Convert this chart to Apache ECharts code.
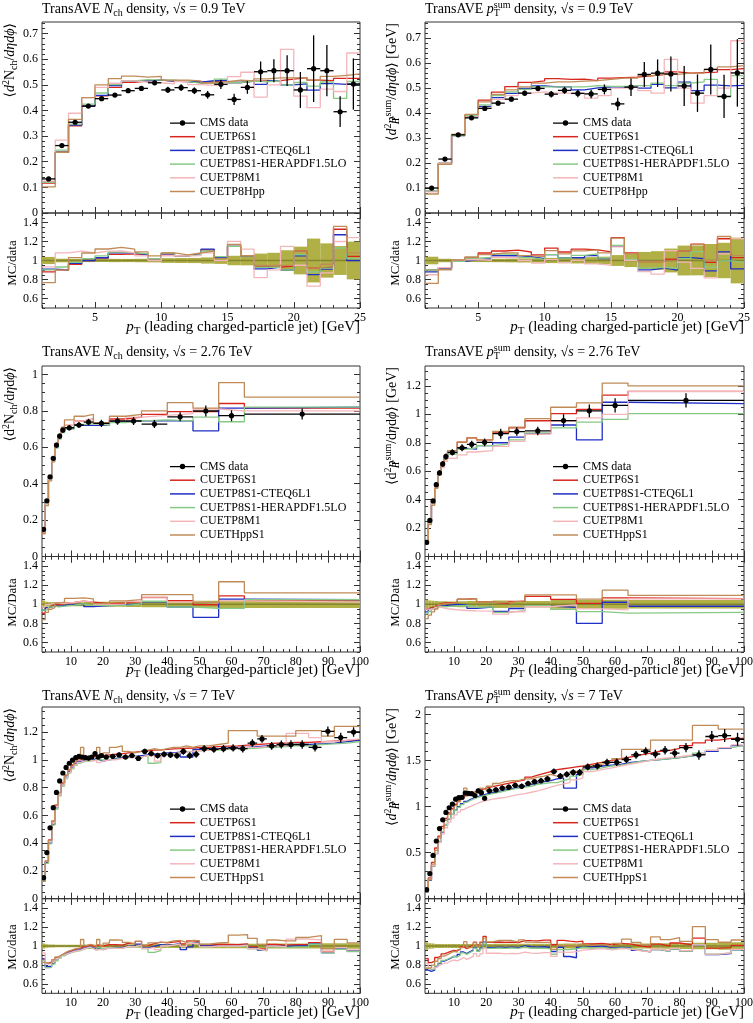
<!DOCTYPE html>
<html><head><meta charset="utf-8"><title>TransAVE densities</title>
<script src="https://cdn.jsdelivr.net/npm/echarts@6.0.0/dist/echarts.min.js"></script>
<style>html,body{margin:0;padding:0;background:#fff;}#chart{width:753px;height:1023px;}</style>
</head><body><div id="chart"></div>
<script>
// ================= DATA =================
const NAMES_A = ['CUETP6S1','CUETP8S1-CTEQ6L1','CUETP8S1-HERAPDF1.5LO','CUETP8M1','CUETP8Hpp'];
const NAMES_B = ['CUETP6S1','CUETP8S1-CTEQ6L1','CUETP8S1-HERAPDF1.5LO','CUETP8M1','CUETHppS1'];

// ---- sqrt(s) = 0.9 TeV ----
const edges09 = [1,2,3,4,5,6,7,8,9,10,11,12,13,14,15,16,17,18,19,20,21,22,23,24,25];
const nch09_data = [0.133,0.263,0.354,0.417,0.446,0.460,0.477,0.486,0.508,0.480,0.489,0.477,0.461,0.502,0.443,0.490,0.551,0.555,0.555,0.480,0.563,0.555,0.395,0.503];
const nch09_err  = [0.005,0.005,0.006,0.007,0.007,0.008,0.008,0.009,0.010,0.012,0.013,0.013,0.015,0.018,0.022,0.025,0.040,0.045,0.060,0.070,0.130,0.100,0.060,0.100];
const nch09_P6S1 = [0.117,0.237,0.340,0.417,0.457,0.490,0.510,0.515,0.518,0.514,0.513,0.510,0.512,0.517,0.509,0.514,0.515,0.516,0.522,0.528,0.518,0.516,0.525,0.525];
const nch09_CTEQ = [0.121,0.237,0.343,0.417,0.459,0.497,0.515,0.515,0.518,0.514,0.513,0.510,0.516,0.517,0.509,0.514,0.502,0.516,0.500,0.504,0.479,0.505,0.502,0.503];
const nch09_HERA = [0.120,0.245,0.347,0.425,0.468,0.501,0.515,0.520,0.518,0.518,0.513,0.506,0.507,0.522,0.509,0.514,0.512,0.516,0.500,0.509,0.495,0.511,0.447,0.513];
const nch09_M1   = [0.124,0.284,0.389,0.450,0.490,0.506,0.515,0.510,0.508,0.504,0.513,0.501,0.498,0.502,0.532,0.549,0.452,0.500,0.638,0.456,0.411,0.483,0.474,0.624];
const nch09_Hpp  = [0.102,0.237,0.365,0.450,0.500,0.524,0.534,0.530,0.533,0.518,0.518,0.515,0.507,0.512,0.518,0.515,0.523,0.527,0.527,0.528,0.518,0.533,0.537,0.543];

const pt09_data = [0.100,0.216,0.313,0.381,0.419,0.440,0.456,0.480,0.499,0.476,0.491,0.479,0.477,0.495,0.437,0.504,0.555,0.560,0.557,0.509,0.480,0.575,0.467,0.561];
const pt09_err  = [0.004,0.004,0.005,0.006,0.007,0.008,0.009,0.010,0.011,0.013,0.014,0.015,0.017,0.020,0.025,0.035,0.050,0.055,0.070,0.080,0.075,0.100,0.087,0.135];
const pt09_P6S1 = [0.090,0.199,0.313,0.392,0.452,0.484,0.506,0.523,0.529,0.538,0.535,0.536,0.530,0.540,0.542,0.544,0.549,0.554,0.565,0.560,0.562,0.564,0.574,0.578];
const pt09_CTEQ = [0.088,0.199,0.310,0.385,0.427,0.462,0.479,0.499,0.509,0.505,0.506,0.493,0.501,0.505,0.503,0.509,0.500,0.515,0.501,0.524,0.490,0.512,0.509,0.511];
const pt09_HERA = [0.090,0.200,0.310,0.390,0.433,0.470,0.485,0.495,0.505,0.505,0.505,0.505,0.510,0.507,0.507,0.510,0.510,0.520,0.510,0.520,0.525,0.535,0.465,0.550];
const pt09_M1   = [0.085,0.200,0.315,0.385,0.420,0.455,0.470,0.480,0.485,0.480,0.480,0.480,0.460,0.470,0.500,0.505,0.490,0.480,0.615,0.500,0.440,0.470,0.500,0.690];
const pt09_Hpp  = [0.076,0.195,0.315,0.395,0.445,0.475,0.493,0.505,0.520,0.525,0.525,0.528,0.530,0.535,0.540,0.540,0.550,0.555,0.555,0.560,0.560,0.575,0.585,0.590];

// ---- sqrt(s) = 2.76 TeV ----
const edges276 = [1,2,3,4,5,6,7,8,11,14,17,22,27,32,40,48,56,64,100];
const nch276_data = [0.149,0.306,0.438,0.539,0.612,0.661,0.694,0.707,0.722,0.738,0.731,0.744,0.744,0.727,0.767,0.799,0.773,0.782];
const nch276_err  = [0.006,0.008,0.010,0.012,0.013,0.014,0.015,0.015,0.016,0.018,0.020,0.020,0.022,0.022,0.025,0.030,0.030,0.030];
const nch276_P6S1 = [0.135,0.295,0.430,0.535,0.610,0.660,0.700,0.720,0.745,0.755,0.735,0.755,0.765,0.780,0.795,0.795,0.840,0.815];
const nch276_CTEQ = [0.140,0.295,0.425,0.530,0.600,0.650,0.685,0.705,0.720,0.720,0.720,0.740,0.745,0.745,0.745,0.690,0.815,0.820];
const nch276_HERA = [0.140,0.290,0.425,0.530,0.595,0.645,0.680,0.700,0.725,0.730,0.720,0.735,0.745,0.750,0.745,0.765,0.740,0.820];
const nch276_M1   = [0.145,0.305,0.440,0.545,0.620,0.665,0.700,0.720,0.745,0.755,0.730,0.745,0.765,0.775,0.785,0.810,0.800,0.800];
const nch276_HppS1= [0.125,0.280,0.415,0.520,0.620,0.670,0.710,0.750,0.770,0.780,0.735,0.770,0.780,0.800,0.845,0.815,0.955,0.875];

const pt276_data = [0.100,0.254,0.391,0.505,0.588,0.651,0.703,0.732,0.765,0.789,0.803,0.864,0.879,0.883,0.956,1.025,1.063,1.098];
const pt276_err  = [0.005,0.010,0.014,0.017,0.019,0.020,0.022,0.022,0.024,0.026,0.027,0.035,0.030,0.030,0.045,0.045,0.050,0.050];
const pt276_P6S1 = [0.095,0.245,0.380,0.500,0.590,0.660,0.715,0.745,0.805,0.835,0.820,0.870,0.905,0.955,1.005,1.035,1.135,1.162];
const pt276_CTEQ = [0.092,0.240,0.375,0.490,0.580,0.640,0.695,0.730,0.760,0.755,0.780,0.800,0.840,0.865,0.925,0.820,1.085,1.075];
const pt276_HERA = [0.090,0.235,0.370,0.490,0.575,0.635,0.685,0.720,0.755,0.765,0.780,0.790,0.820,0.870,0.905,0.945,0.965,1.005];
const pt276_M1   = [0.095,0.240,0.375,0.490,0.570,0.625,0.670,0.690,0.715,0.735,0.745,0.775,0.810,0.860,0.950,0.975,1.000,1.160];
const pt276_HppS1= [0.085,0.225,0.360,0.480,0.585,0.655,0.710,0.745,0.805,0.835,0.820,0.880,0.910,0.970,1.050,1.080,1.220,1.200];

// ---- sqrt(s) = 7 TeV ----
const edges7 = [1,2,3,4,5,6,7,8,9,10,11,12,13,14,15,16,17,18,19,20,
  22,24,26,28,30,32,34,36,38,40,42,44,46,48,50,
  53,56,59,62,65,68,71,74,77,80,
  84,88,92,96,100];
const nch7_data = [0.151,0.332,0.510,0.655,0.765,0.848,0.905,0.945,0.975,0.998,1.015,1.025,1.020,1.015,1.012,1.020,1.045,1.020,1.030,
  1.020,1.025,1.035,1.020,1.030,1.010,1.060,1.045,1.030,1.040,1.035,1.030,1.060,1.030,1.040,
  1.080,1.075,1.080,1.085,1.080,1.120,1.150,1.100,1.110,1.110,
  1.110,1.090,1.205,1.160,1.200];
const nch7_err = [0.004,0.006,0.008,0.010,0.011,0.012,0.012,0.013,0.013,0.013,0.014,0.014,0.014,0.015,0.015,0.015,0.015,0.016,0.016,
  0.016,0.017,0.017,0.018,0.018,0.019,0.020,0.020,0.021,0.022,0.022,0.023,0.024,0.024,0.025,
  0.025,0.025,0.026,0.026,0.027,0.027,0.028,0.028,0.029,0.030,
  0.030,0.030,0.035,0.035,0.035];
const nch7_P6S1 = [0.131,0.272,0.423,0.557,0.673,0.763,0.833,0.888,0.926,0.958,0.985,1.000,1.010,1.015,1.020,1.022,1.025,1.028,1.030,
  1.035,1.040,1.045,1.050,1.055,1.060,1.065,1.070,1.072,1.075,1.078,1.080,1.083,1.085,1.088,
  1.090,1.095,1.098,1.100,1.105,1.110,1.115,1.120,1.120,1.125,
  1.125,1.130,1.135,1.140,1.140];
const nch7_CTEQ = [0.130,0.260,0.400,0.535,0.655,0.750,0.820,0.875,0.915,0.945,0.970,0.985,0.995,1.000,1.000,1.000,1.010,1.000,0.990,
  1.000,1.010,1.015,1.020,1.025,1.030,1.035,1.040,1.045,1.050,1.050,1.055,1.020,1.020,1.075,
  1.080,1.080,1.085,1.090,1.090,1.095,1.100,1.100,1.105,1.110,
  1.110,1.115,1.120,1.130,1.140];
const nch7_HERA = [0.128,0.255,0.395,0.530,0.645,0.740,0.810,0.865,0.905,0.935,0.960,0.975,0.985,0.990,0.990,0.995,1.000,1.000,1.000,
  1.000,1.005,1.010,1.015,1.020,1.020,1.030,0.975,0.980,1.040,1.045,1.050,1.055,1.060,1.065,
  1.070,1.070,1.075,1.080,1.080,1.085,1.090,1.090,1.095,1.100,
  1.100,1.110,1.115,1.120,1.130];
const nch7_M1 = [0.140,0.270,0.415,0.550,0.660,0.750,0.820,0.870,0.910,0.940,0.965,0.980,0.990,0.995,1.000,0.990,1.000,0.980,0.990,
  1.000,1.000,1.010,1.015,1.020,1.020,1.030,1.030,0.990,1.040,1.045,1.050,1.055,1.060,1.065,
  1.070,1.075,1.080,1.085,1.090,1.090,1.095,1.100,1.100,1.190,
  1.190,1.160,1.130,1.140,1.150];
const nch7_HppS1 = [0.125,0.270,0.420,0.560,0.675,0.765,0.835,0.890,0.930,0.965,0.990,1.005,1.090,1.020,1.030,1.030,1.040,1.090,1.030,
  1.050,1.090,1.100,1.060,1.050,1.060,1.070,1.080,1.070,1.080,1.090,1.090,1.100,1.090,1.100,
  1.100,1.110,1.120,1.210,1.210,1.210,1.170,1.170,1.170,1.170,
  1.210,1.210,1.170,1.240,1.240];

const pt7_data = [0.098,0.273,0.470,0.626,0.761,0.856,0.936,0.987,1.027,1.080,1.096,1.100,1.147,1.143,1.140,1.120,1.170,1.150,1.090,
  1.170,1.180,1.200,1.210,1.230,1.220,1.250,1.270,1.280,1.300,1.380,1.330,1.350,1.370,1.370,
  1.430,1.440,1.480,1.480,1.510,1.560,1.600,1.570,1.610,1.580,
  1.640,1.560,1.760,1.770,1.730];
const pt7_err = [0.004,0.008,0.012,0.014,0.016,0.018,0.019,0.020,0.021,0.022,0.022,0.023,0.024,0.024,0.024,0.025,0.025,0.025,0.025,
  0.026,0.027,0.027,0.028,0.028,0.029,0.030,0.030,0.031,0.032,0.033,0.033,0.034,0.035,0.036,
  0.037,0.038,0.039,0.040,0.041,0.042,0.044,0.045,0.046,0.047,
  0.050,0.052,0.060,0.070,0.070];
const pt7_P6S1 = [0.085,0.225,0.395,0.550,0.680,0.785,0.870,0.930,0.980,1.025,1.060,1.090,1.115,1.135,1.150,1.165,1.180,1.190,1.200,
  1.215,1.230,1.245,1.260,1.275,1.290,1.320,1.340,1.360,1.380,1.400,1.410,1.420,1.430,1.440,
  1.460,1.480,1.500,1.520,1.540,1.560,1.580,1.600,1.610,1.630,
  1.660,1.690,1.720,1.740,1.740];
const pt7_CTEQ = [0.073,0.200,0.350,0.490,0.620,0.720,0.800,0.860,0.915,0.960,1.000,1.030,1.055,1.075,1.090,1.100,1.115,1.125,1.135,
  1.150,1.165,1.180,1.195,1.210,1.220,1.240,1.255,1.270,1.280,1.300,1.310,1.200,1.200,1.350,
  1.420,1.440,1.450,1.460,1.480,1.490,1.500,1.510,1.520,1.530,
  1.550,1.570,1.600,1.630,1.660];
const pt7_HERA = [0.075,0.205,0.355,0.495,0.625,0.725,0.805,0.865,0.915,0.955,0.990,1.020,1.045,1.065,1.080,1.095,1.105,1.115,1.125,
  1.140,1.155,1.170,1.185,1.200,1.210,1.220,1.240,1.250,1.260,1.260,1.280,1.300,1.330,1.350,
  1.400,1.420,1.440,1.450,1.470,1.490,1.500,1.510,1.520,1.530,
  1.550,1.580,1.610,1.640,1.660];
const pt7_M1 = [0.080,0.210,0.360,0.490,0.610,0.700,0.770,0.830,0.875,0.910,0.940,0.965,0.985,1.000,1.015,1.030,1.045,1.055,1.065,
  1.080,1.090,1.100,1.115,1.130,1.140,1.155,1.170,1.190,1.210,1.230,1.245,1.260,1.290,1.310,
  1.380,1.400,1.420,1.440,1.460,1.480,1.500,1.520,1.530,1.540,
  1.560,1.580,1.610,1.640,1.670];
const pt7_HppS1 = [0.075,0.210,0.375,0.525,0.660,0.765,0.850,0.915,0.970,1.010,1.050,1.080,1.200,1.120,1.140,1.160,1.170,1.200,1.180,
  1.220,1.250,1.270,1.280,1.280,1.300,1.300,1.320,1.330,1.350,1.330,1.340,1.350,1.380,1.400,
  1.440,1.460,1.480,1.520,1.620,1.620,1.620,1.720,1.720,1.720,
  1.720,1.880,1.880,1.840,1.840];

// tick label values
const xTicks09 = [5,10,15,20,25];
const xTicksHi = [10,20,30,40,50,60,70,80,90,100];
const ratioTicks = [0.6,0.8,1,1.2,1.4];

// ================= STYLE / LAYOUT =================
const FONT = "'Liberation Serif','DejaVu Serif',serif";
const MC_COLORS = ['#d9261c','#1f2fc4','#86c986','#f4b6bb','#c08b57'];
const BAND_COLOR = '#b1b046';
const BAND_LINE = '#85852f';
const FRAME = '#333';

function ticks(a, b, s) { const o = []; for (let k = 0; ; k++) { const v = +(a + k * s).toFixed(6); if (v > b + 1e-9) break; o.push(v); } return o; }

const ROWS = [
  {T: 22, M: 213, B: 308, titleY: 9.5, xtY: 327, rtY: 263, legT: 117},
  {T: 366, M: 556.5, B: 652, titleY: 352, xtY: 670, rtY: 602.5, legT: 460.5},
  {T: 707, M: 898.7, B: 993.3, titleY: 696, xtY: 1012, rtY: 947, legT: 803}
];
const COLS = [
  {L: 42, W: 318, ytX: 10, rtX: 12.5, legL: 170},
  {L: 425, W: 319, ytX: 392, rtX: 396, legL: 553}
];

const T_NCH = (e) => 'TransAVE {i|N}{sub|ch} density, √{i|s} = ' + e + ' TeV';
const T_PT  = (e) => 'TransAVE {i|p}{subz|T}{sup|sum} density, √{i|s} = ' + e + ' TeV';

const panels = [
  {row: 0, col: 0, edges: edges09, data: nch09_data, err: nch09_err, mc: [nch09_P6S1, nch09_CTEQ, nch09_HERA, nch09_M1, nch09_Hpp], names: NAMES_A,
   xmin: 1, xmax: 25, xMaj: xTicks09, xMin: ticks(1, 25, 1), ymax: 0.745, yMaj: ticks(0, 0.7, 0.1), yMin: ticks(0, 0.74, 0.02),
   title: T_NCH('0.9'), ytitle: '⟨{i|d}{sup|2}N{sub|ch}/{i|dηdϕ}⟩', rtitle: 'MC/data'},
  {row: 0, col: 1, edges: edges09, data: pt09_data, err: pt09_err, mc: [pt09_P6S1, pt09_CTEQ, pt09_HERA, pt09_M1, pt09_Hpp], names: NAMES_A,
   xmin: 1, xmax: 25, xMaj: xTicks09, xMin: ticks(1, 25, 1), ymax: 0.765, yMaj: ticks(0, 0.7, 0.1), yMin: ticks(0, 0.76, 0.02),
   title: T_PT('0.9'), ytitle: '⟨{i|d}{sup|2}{i|p}{subz|T}{sup|sum}/{i|dηdϕ}⟩ [GeV]', rtitle: 'MC/data'},
  {row: 1, col: 0, edges: edges276, data: nch276_data, err: nch276_err, mc: [nch276_P6S1, nch276_CTEQ, nch276_HERA, nch276_M1, nch276_HppS1], names: NAMES_B,
   xmin: 1, xmax: 100, xMaj: xTicksHi, xMin: ticks(2, 100, 2), ymax: 1.046, yMaj: ticks(0, 1, 0.2), yMin: ticks(0, 1.04, 0.05),
   title: T_NCH('2.76'), ytitle: '⟨d{sup|2}N{sub|ch}/d{i|η}d{i|ϕ}⟩', rtitle: 'MC/Data'},
  {row: 1, col: 1, edges: edges276, data: pt276_data, err: pt276_err, mc: [pt276_P6S1, pt276_CTEQ, pt276_HERA, pt276_M1, pt276_HppS1], names: NAMES_B,
   xmin: 1, xmax: 100, xMaj: xTicksHi, xMin: ticks(2, 100, 2), ymax: 1.34, yMaj: ticks(0, 1.2, 0.2), yMin: ticks(0, 1.3, 0.05),
   title: T_PT('2.76'), ytitle: '⟨d{sup|2}{i|p}{subz|T}{sup|sum}/d{i|η}d{i|ϕ}⟩ [GeV]', rtitle: 'MC/Data'},
  {row: 2, col: 0, edges: edges7, data: nch7_data, err: nch7_err, mc: [nch7_P6S1, nch7_CTEQ, nch7_HERA, nch7_M1, nch7_HppS1], names: NAMES_B,
   xmin: 1, xmax: 100, xMaj: xTicksHi, xMin: ticks(2, 100, 2), ymax: 1.38, yMaj: ticks(0, 1.2, 0.2), yMin: ticks(0, 1.35, 0.05),
   title: T_NCH('7'), ytitle: '⟨{i|d}{sup|2}N{sub|ch}/{i|dηdϕ}⟩', rtitle: 'MC/data'},
  {row: 2, col: 1, edges: edges7, data: pt7_data, err: pt7_err, mc: [pt7_P6S1, pt7_CTEQ, pt7_HERA, pt7_M1, pt7_HppS1], names: NAMES_B,
   xmin: 1, xmax: 100, xMaj: xTicksHi, xMin: ticks(2, 100, 2), ymax: 2.08, yMaj: ticks(0, 2, 0.5), yMin: ticks(0, 2.05, 0.1),
   title: T_PT('7'), ytitle: '⟨{i|d}{sup|2}{i|p}{subz|T}{sup|sum}/{i|dηdϕ}⟩ [GeV]', rtitle: 'MC/data'}
];

// ================= BUILD =================
const grids = [], xAxes = [], yAxes = [], series = [], legends = [], elements = [];

function addAxisGroup(arr, gi, sides, min, max, major, minor, labels) {
  const idx = arr.length;
  sides.forEach((side, s) => {
    [[major, 6], [minor, 3]].forEach(([vals, len], m) => {
      const showLab = s === 0 && m === 0 && labels != null;
      arr.push({
        type: 'value', gridIndex: gi, position: side, min: min, max: max,
        axisLine: {show: false}, splitLine: {show: false}, minorTick: {show: false},
        axisTick: {show: true, inside: true, length: len, customValues: vals, lineStyle: {color: FRAME, width: 1}},
        axisLabel: showLab ? {show: true, customValues: labels, margin: 4, fontFamily: FONT, fontSize: 12, color: '#000',
          formatter: (v) => String(+(+v).toFixed(3))} : {show: false}
      });
    });
  });
  return idx;
}

function stepData(edges, vals) {
  const out = vals.map((v, i) => [edges[i], v]);
  out.push([edges[edges.length - 1], vals[vals.length - 1]]);
  return out;
}

function renderData(params, api) {
  const xc = api.value(0), y = api.value(1);
  const p = api.coord([xc, y]);
  const pl = api.coord([api.value(2), y]);
  const ph = api.coord([api.value(3), y]);
  const pyl = api.coord([xc, api.value(4)]);
  const pyh = api.coord([xc, api.value(5)]);
  return {type: 'group', children: [
    {type: 'line', shape: {x1: pl[0], y1: pl[1], x2: ph[0], y2: ph[1]}, style: {stroke: '#000', lineWidth: 1.3}},
    {type: 'line', shape: {x1: pyl[0], y1: pyl[1], x2: pyh[0], y2: pyh[1]}, style: {stroke: '#000', lineWidth: 1.3}},
    {type: 'circle', shape: {cx: p[0], cy: p[1], r: 2.6}, style: {fill: '#000'}}
  ]};
}

function renderBand(params, api) {
  const a = api.coord([api.value(0), api.value(3)]);
  const b = api.coord([api.value(1), api.value(2)]);
  return {type: 'rect', shape: {x: a[0], y: a[1], width: b[0] - a[0], height: b[1] - a[1]}, style: {fill: BAND_COLOR}};
}

const DATA_ICON = 'path://M0,2 L24,2 L24,3.2 L0,3.2 Z M14.6,2.6 A2.6,2.6 0 1 1 9.4,2.6 A2.6,2.6 0 1 1 14.6,2.6 Z';
const LINE_ICON = 'path://M0,0 L25,0 L25,1.5 L0,1.5 Z';

function rich(fs) {
  const s = Math.round(fs * 0.72);
  return {
    i: {fontStyle: 'italic', fontFamily: FONT, fontSize: fs, fill: '#000', lineHeight: fs + 4},
    sub: {fontFamily: FONT, fontSize: s, fill: '#000', lineHeight: s, verticalAlign: 'bottom'},
    sup: {fontFamily: FONT, fontSize: s, fill: '#000', lineHeight: s, verticalAlign: 'top'},
    subz: {fontFamily: FONT, fontSize: s, fill: '#000', lineHeight: s, verticalAlign: 'bottom', width: 0}
  };
}
function textEl(x, y, text, fs, align, rot) {
  const el = {type: 'text', x: x, y: y, silent: true, z: 100,
    style: {text: text, rich: rich(fs), fontFamily: FONT, fontSize: fs, lineHeight: fs + 4, fill: '#000', align: align, verticalAlign: 'middle'}};
  if (rot) el.rotation = Math.PI / 2;
  return el;
}

panels.forEach((p) => {
  const R = ROWS[p.row], C = COLS[p.col];
  const gm = grids.length;
  grids.push({left: C.L, top: R.T, width: C.W, height: R.M - R.T, show: true, borderColor: FRAME, borderWidth: 1, backgroundColor: 'rgba(0,0,0,0)', containLabel: false, outerBoundsMode: 'none'});
  const gr = grids.length;
  grids.push({left: C.L, top: R.M, width: C.W, height: R.B - R.M, show: true, borderColor: FRAME, borderWidth: 1, backgroundColor: 'rgba(0,0,0,0)', containLabel: false, outerBoundsMode: 'none'});
  const xm = addAxisGroup(xAxes, gm, ['bottom', 'top'], p.xmin, p.xmax, p.xMaj, p.xMin, null);
  const ym = addAxisGroup(yAxes, gm, ['left', 'right'], 0, p.ymax, p.yMaj, p.yMin, p.yMaj);
  const xr = addAxisGroup(xAxes, gr, ['bottom', 'top'], p.xmin, p.xmax, p.xMaj, p.xMin, p.xMaj);
  const yr = addAxisGroup(yAxes, gr, ['left', 'right'], 0.5, 1.5, ratioTicks, ticks(0.5, 1.5, 0.05), ratioTicks);

  // main MC histograms
  p.mc.forEach((vals, j) => {
    series.push({type: 'line', name: p.names[j], xAxisIndex: xm, yAxisIndex: ym, step: 'end', symbol: 'none', silent: true,
      data: stepData(p.edges, vals), lineStyle: {color: MC_COLORS[j], width: 1.3}, itemStyle: {color: MC_COLORS[j]}, z: 3});
  });
  // data points
  series.push({type: 'custom', name: 'CMS data', xAxisIndex: xm, yAxisIndex: ym, silent: true, clip: true,
    data: p.data.map((v, i) => [(p.edges[i] + p.edges[i + 1]) / 2, v, p.edges[i], p.edges[i + 1], v - p.err[i], v + p.err[i]]),
    encode: {x: 0, y: 1}, renderItem: renderData, itemStyle: {color: '#000'}, z: 6});

  // ratio: data uncertainty band, reference line and MC/data
  series.push({type: 'custom', name: 'band', xAxisIndex: xr, yAxisIndex: yr, silent: true, clip: true,
    data: p.data.map((v, i) => [p.edges[i], p.edges[i + 1], 1 - p.err[i] / v, Math.min(1 + p.err[i] / v, 1.5)]),
    encode: {x: [0, 1], y: [2, 3]}, renderItem: renderBand, z: 1});
  series.push({type: 'line', name: 'ref', xAxisIndex: xr, yAxisIndex: yr, symbol: 'none', silent: true,
    data: [[p.xmin, 1], [p.xmax, 1]], lineStyle: {color: BAND_LINE, width: 1.5}, z: 2});
  p.mc.forEach((vals, j) => {
    const r = vals.map((v, i) => +(v / p.data[i]).toFixed(4));
    series.push({type: 'line', name: p.names[j], xAxisIndex: xr, yAxisIndex: yr, step: 'end', symbol: 'none', silent: true,
      data: stepData(p.edges, r), lineStyle: {color: MC_COLORS[j], width: 1.3}, itemStyle: {color: MC_COLORS[j]}, z: 3});
  });

  legends.push({orient: 'vertical', left: C.legL, top: R.legT, itemWidth: 25, itemHeight: 8, itemGap: 1.7,
    selectedMode: false, padding: 0, textStyle: {fontFamily: FONT, fontSize: 12, color: '#000', lineHeight: 12},
    data: [{name: 'CMS data', icon: DATA_ICON}].concat(p.names.map((nm) => ({name: nm, icon: LINE_ICON})))});

  elements.push(textEl(C.L, R.titleY, p.title, 14, 'left', false));
  elements.push(textEl(C.ytX, R.T + 1, p.ytitle, 14, 'right', true));
  elements.push(textEl(C.rtX, R.rtY, p.rtitle, 13, 'center', true));
  elements.push(textEl(C.L + C.W, R.xtY, '{i|p}{sub|T} (leading charged-particle jet) [GeV]', 15, 'right', false));
});

const chart = echarts.init(document.getElementById('chart'), null, {renderer: 'canvas'});
chart.setOption({
  animation: false,
  backgroundColor: '#fff',
  grid: grids, xAxis: xAxes, yAxis: yAxes,
  legend: legends,
  series: series,
  graphic: {elements: elements}
});
</script>
</body></html>
